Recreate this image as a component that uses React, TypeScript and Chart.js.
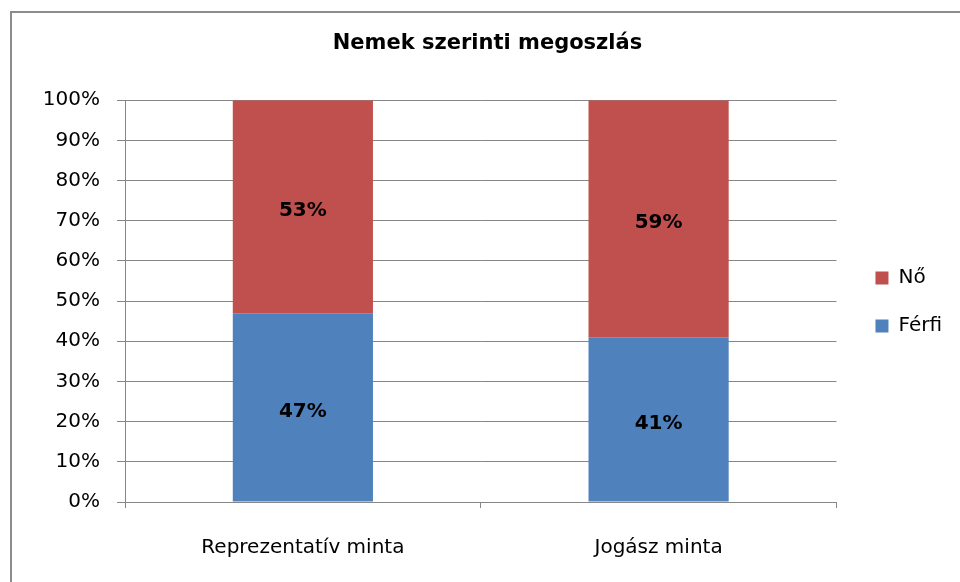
import React, { useEffect, useRef } from "react";
import { Chart, registerables } from "chart.js";

Chart.register(...registerables);

const TITLE = "Nemek szerinti megoszlás";
const categories = ["Reprezentatív minta", "Jogász minta"];
const ferfiValues = [47, 41];
const noValues = [53, 59];
const yTicks = [0, 10, 20, 30, 40, 50, 60, 70, 80, 90, 100];

const FONT = "'DejaVu Sans', sans-serif";

const framePlugin = {
  id: "frame",
  beforeDraw(chart: any) {
    const ctx = chart.ctx;
    ctx.save();
    ctx.fillStyle = "#ffffff";
    ctx.fillRect(0, 0, chart.width, chart.height);
    ctx.strokeStyle = "#8c8c8c";
    ctx.lineWidth = 2;
    ctx.beginPath();
    ctx.moveTo(11, chart.height + 5);
    ctx.lineTo(11, 12);
    ctx.lineTo(chart.width + 5, 12);
    ctx.stroke();
    ctx.restore();
  },
};

const shiftPlugin = {
  id: "blockShift",
  afterLayout(chart: any) {
    const lg = chart.legend;
    if (lg) {
      lg.left += 11;
      lg.right += 11;
      lg.top += 11;
      lg.bottom += 11;
    }
    const tb = chart.titleBlock;
    if (tb) {
      tb.left += 17;
      tb.right += 17;
    }
  },
};

const labelPlugin = {
  id: "barLabels",
  afterDatasetsDraw(chart: any) {
    const ctx = chart.ctx;
    ctx.save();
    ctx.font = `bold 20px ${FONT}`;
    ctx.fillStyle = "#000000";
    ctx.textAlign = "center";
    ctx.textBaseline = "middle";
    chart.data.datasets.forEach((ds: any, i: number) => {
      const meta = chart.getDatasetMeta(i);
      meta.data.forEach((bar: any, j: number) => {
        const { x, y, base } = bar.getProps(["x", "y", "base"], true);
        ctx.fillText(ds.data[j] + "%", x, (y + base) / 2 + 4);
      });
    });
    ctx.restore();
  },
};

export default function App() {
  const ref = useRef<HTMLCanvasElement>(null);
  useEffect(() => {
    document.body.style.margin = "0";
    const chart = new Chart(ref.current!, {
      type: "bar",
      data: {
        labels: categories,
        datasets: [
          {
            label: "Férfi",
            data: ferfiValues,
            backgroundColor: "#4F81BD",
            barPercentage: 0.394,
            categoryPercentage: 1,
          },
          {
            label: "Nő",
            data: noValues,
            backgroundColor: "#C0504D",
            barPercentage: 0.394,
            categoryPercentage: 1,
          },
        ],
      },
      options: {
        animation: false,
        responsive: false,
        layout: { padding: { left: 0, right: 19, top: 0, bottom: 0 } },
        plugins: {
          title: {
            display: true,
            text: TITLE,
            color: "#000000",
            font: { family: FONT, size: 21, weight: "bold" },
            padding: { top: 31, bottom: 44 },
          },
          legend: {
            position: "right",
            reverse: true,
            labels: {
              boxWidth: 13,
              boxHeight: 13,
              padding: 28,
              color: "#000000",
              font: { family: FONT, size: 20 },
            },
          },
          tooltip: { enabled: false },
        },
        scales: {
          x: {
            stacked: true,
            grid: {
              drawOnChartArea: false,
              drawTicks: true,
              tickLength: 6,
              color: "#868686",
            },
            border: { color: "#868686" },
            ticks: {
              color: "#000000",
              font: { family: FONT, size: 20 },
              padding: 28,
            },
            afterFit(scale: any) {
              scale.height = 80;
            },
          },
          y: {
            stacked: true,
            min: 0,
            max: 100,
            afterBuildTicks(scale: any) {
              scale.ticks = yTicks.map((v) => ({ value: v }));
            },
            grid: {
              color: "#868686",
              tickLength: 8,
            },
            border: { color: "#868686" },
            ticks: {
              color: "#000000",
              font: { family: FONT, size: 20 },
              padding: 17,
              callback: (v: any) => v + "%",
            },
            afterFit(scale: any) {
              scale.width = 125;
            },
          },
        },
      },
      plugins: [framePlugin, shiftPlugin, labelPlugin],
    });
    return () => chart.destroy();
  }, []);
  return <canvas ref={ref} width={960} height={582} style={{ display: "block" }} />;
}
